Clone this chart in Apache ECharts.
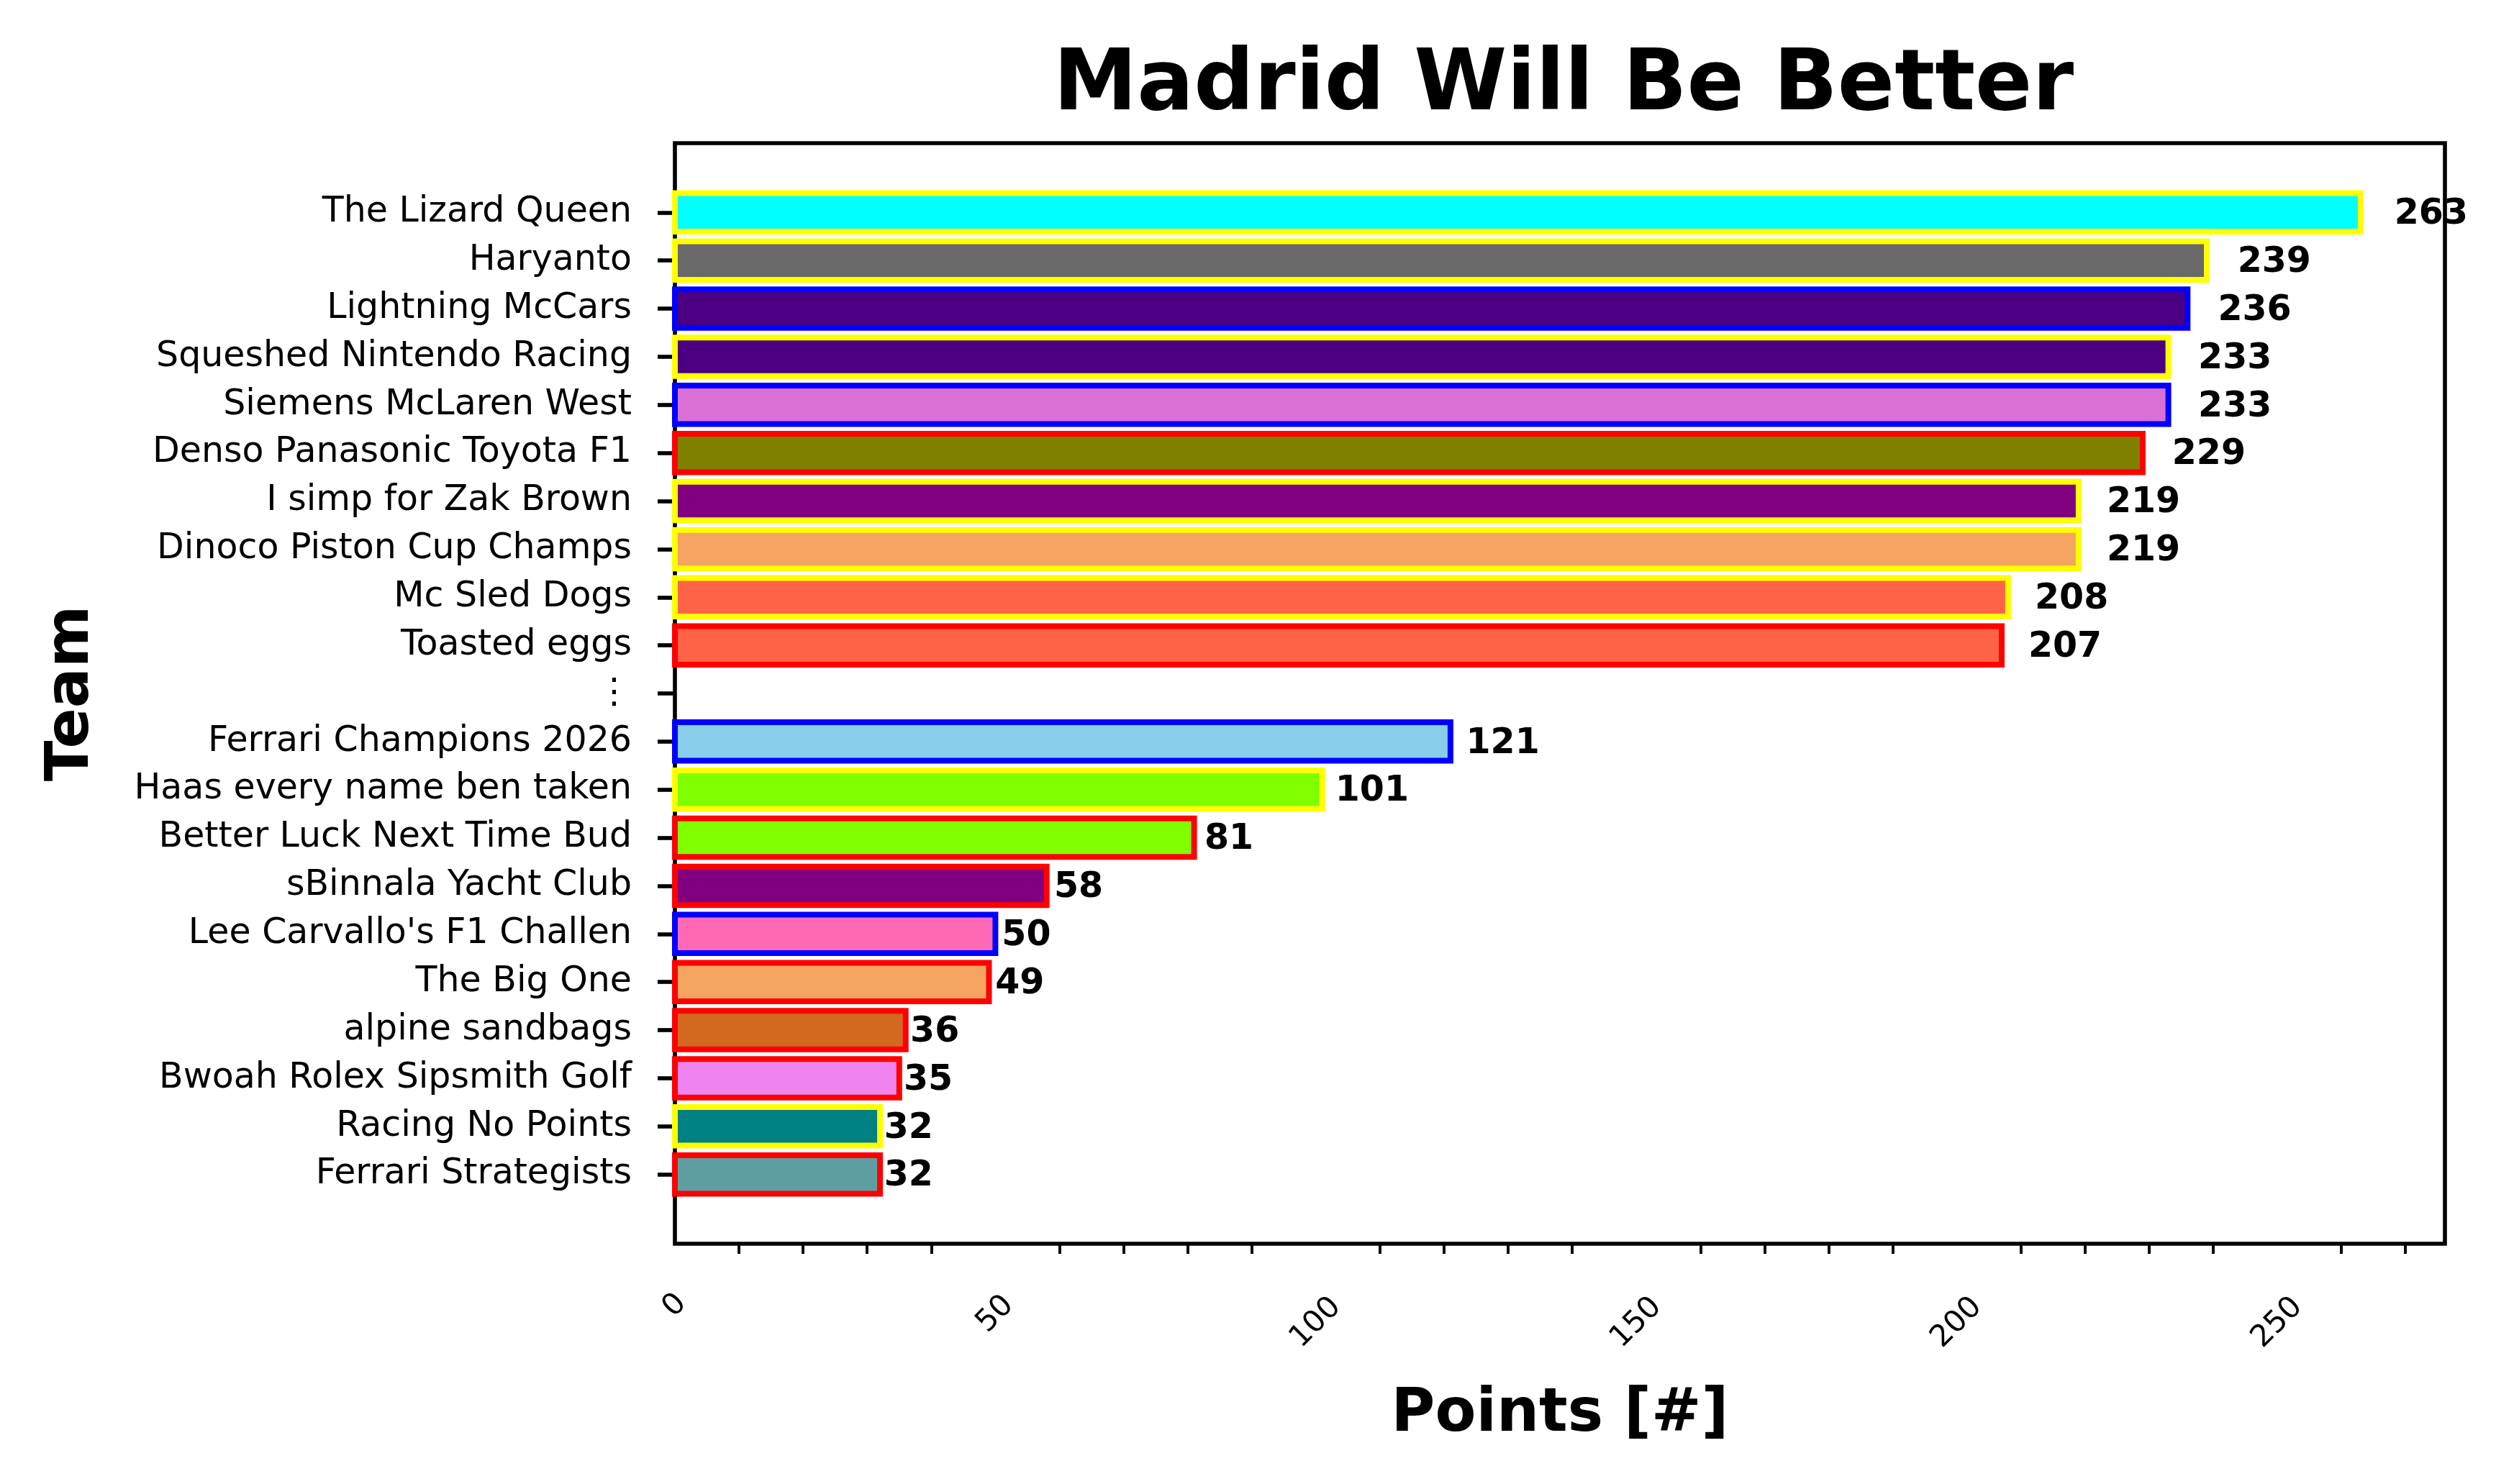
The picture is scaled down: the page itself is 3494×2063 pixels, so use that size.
<!DOCTYPE html>
<html>
<head>
<meta charset="utf-8">
<script src="https://cdn.jsdelivr.net/npm/echarts@6/dist/echarts.min.js"></script>
<style>
  html, body { margin: 0; padding: 0; background: #fff; }
  #chart { width: 3494px; height: 2063px; }
</style>
</head>
<body>
<div id="chart"></div>
<script>
const teams = [
  "The Lizard Queen", "Haryanto", "Lightning McCars", "Squeshed Nintendo Racing",
  "Siemens McLaren West", "Denso Panasonic Toyota F1", "I simp for Zak Brown",
  "Dinoco Piston Cup Champs", "Mc Sled Dogs", "Toasted eggs", "\u22EE",
  "Ferrari Champions 2026", "Haas every name ben taken", "Better Luck Next Time Bud",
  "sBinnala Yacht Club", "Lee Carvallo's F1 Challen", "The Big One", "alpine sandbags",
  "Bwoah Rolex Sipsmith Golf", "Racing No Points", "Ferrari Strategists"
];
const points = [263, 239, 236, 233, 233, 229, 219, 219, 208, 207, null,
  121, 101, 81, 58, 50, 49, 36, 35, 32, 32];
const fillColors = ["#00FFFF", "#696969", "#4B0082", "#4B0082", "#DA70D6", "#808000",
  "#800080", "#F4A460", "#FF6347", "#FF6347", null, "#87CEEB", "#7FFF00", "#7FFF00",
  "#800080", "#FF69B4", "#F4A460", "#D2691E", "#EE82EE", "#008080", "#5F9EA0"];
const edgeColors = ["#FFFF00", "#FFFF00", "#0000FF", "#FFFF00", "#0000FF", "#FF0000",
  "#FFFF00", "#FFFF00", "#FFFF00", "#FF0000", null, "#0000FF", "#FFFF00", "#FF0000",
  "#FF0000", "#0000FF", "#FF0000", "#FF0000", "#FF0000", "#FFFF00", "#FF0000"];
const xTicks = [0, 50, 100, 150, 200, 250];
const xMinorTicks = [10, 20, 30, 40, 60, 70, 80, 90, 110, 120, 130, 140, 160, 170, 180, 190, 210, 220, 230, 240, 260, 270];
const rowIndex = teams.map((t, i) => i);

const FONT = '"DejaVu Sans", "Liberation Sans", sans-serif';
const data = [];
points.forEach((v, i) => { if (v !== null) data.push([v, i]); });

const chart = echarts.init(document.getElementById('chart'), null, { renderer: 'canvas' });
const grid = { left: 938, top: 199, width: 2460, height: 1530 };
const xLabelStyle = (p) => ({ fontFamily: FONT, fontSize: 42, color: '#000', padding: [p, p, 0, 0] });

chart.setOption({
  animation: false,
  backgroundColor: '#ffffff',
  title: {
    text: 'Madrid Will Be Better',
    left: 2168, top: 58, textAlign: 'center',
    textStyle: { fontFamily: FONT, fontWeight: 'bold', fontSize: 117, color: '#000' }
  },
  grid: Object.assign({ show: true, borderColor: '#000', borderWidth: 5.6, backgroundColor: 'transparent' }, grid),
  xAxis: [{
    type: 'value', min: 0, max: 276.15, position: 'bottom',
    name: 'Points [#]', nameLocation: 'middle', nameGap: 197,
    nameTextStyle: { fontFamily: FONT, fontWeight: 'bold', fontSize: 83, color: '#000' },
    axisLine: { show: false },
    splitLine: { show: false },
    axisTick: { show: true, length: 24, customValues: xTicks, lineStyle: { color: '#000', width: 5.6 } },
    axisLabel: {
      customValues: xTicks, rotate: 45, align: 'center', verticalAlign: 'middle', margin: 86,
      fontFamily: FONT, fontSize: 42, color: '#000',
      formatter: (v) => '{d' + String(v).length + '|' + v + '}',
      rich: { d1: xLabelStyle(0), d2: xLabelStyle(17), d3: xLabelStyle(34) }
    }
  }, {
    type: 'value', min: 0, max: 276.15, position: 'bottom',
    axisLine: { show: false }, splitLine: { show: false },
    axisTick: { show: true, length: 14, customValues: xMinorTicks, lineStyle: { color: '#000', width: 4 } },
    axisLabel: { show: false }
  }],
  yAxis: {
    type: 'value', min: -1.44, max: 21.44, inverse: true,
    name: 'Team', nameLocation: 'middle', nameGap: 796, nameRotate: 90,
    nameTextStyle: { fontFamily: FONT, fontWeight: 'bold', fontSize: 83, color: '#000' },
    axisLine: { show: false }, splitLine: { show: false },
    axisTick: { show: true, length: 24, customValues: rowIndex, lineStyle: { color: '#000', width: 5.6 } },
    axisLabel: {
      customValues: rowIndex, margin: 60, padding: [12, 0, 0, 0],
      fontFamily: FONT, fontSize: 49, color: '#000',
      formatter: (v) => teams[Math.round(v)] || ''
    }
  },
  series: [{
    type: 'custom',
    xAxisIndex: 0, yAxisIndex: 0,
    clip: false,
    encode: { x: 0, y: 1 },
    data: data,
    renderItem: function (params, api) {
      const val = api.value(0);
      const idx = api.value(1);
      const p0 = api.coord([0, idx]);
      const p1 = api.coord([val, idx]);
      const h = api.size([0, 0.8])[1];
      const lp = api.coord([val * 1.02, idx]);
      return {
        type: 'group',
        children: [{
          type: 'rect',
          shape: { x: p0[0], y: p0[1] - h / 2, width: p1[0] - p0[0], height: h },
          style: { fill: fillColors[idx], stroke: edgeColors[idx], lineWidth: 8 }
        }, {
          type: 'text',
          style: {
            text: String(val), x: lp[0], y: lp[1] + 3,
            align: 'left', verticalAlign: 'middle',
            fontFamily: FONT, fontWeight: 'bold', fontSize: 49, fill: '#000'
          }
        }]
      };
    }
  }]
});
</script>
</body>
</html>
